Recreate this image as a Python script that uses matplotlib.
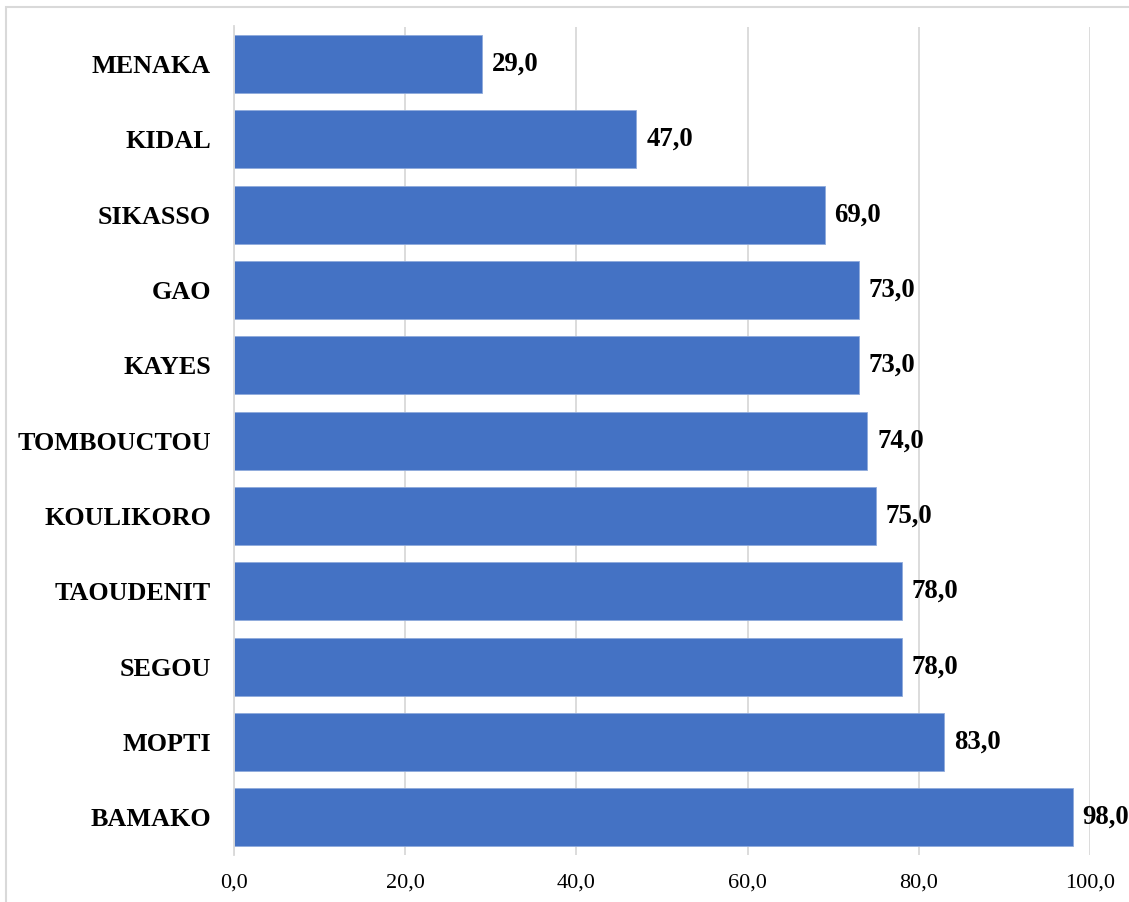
import matplotlib.pyplot as plt
from matplotlib.patches import Rectangle
import matplotlib.ticker as ticker

regions = ['MENAKA', 'KIDAL', 'SIKASSO', 'GAO', 'KAYES', 'TOMBOUCTOU',
           'KOULIKORO', 'TAOUDENIT', 'SEGOU', 'MOPTI', 'BAMAKO']
values = [29.0, 47.0, 69.0, 73.0, 73.0, 74.0, 75.0, 78.0, 78.0, 83.0, 98.0]
xticks = [0, 20, 40, 60, 80, 100]

plt.rcParams['font.family'] = ['Liberation Serif', 'DejaVu Serif']

fig = plt.figure(figsize=(11.29, 9.02), dpi=100)
ax = fig.add_axes([234/1129, 1 - 855/902, (1090 - 234)/1129, (855 - 26.5)/902])

ypos = list(range(len(regions)))
ax.barh(ypos, values, height=0.77, color='#4472C4', edgecolor='#8FAADC',
        linewidth=0.6, zorder=3)
for y, v in zip(ypos, values):
    ax.text(v + 1.15, y, f'{v:.1f}'.replace('.', ','), va='center', ha='left',
            fontsize=19.3, fontweight='bold', zorder=4)

ax.set_ylim(len(regions) - 0.5, -0.5)
ax.set_xlim(0, 100)
ax.set_yticks(ypos)
ax.set_yticklabels(regions, fontsize=18.8, fontweight='bold')
ax.set_xticks(xticks)
ax.xaxis.set_major_formatter(ticker.FuncFormatter(lambda x, p: f'{x:.1f}'.replace('.', ',')))
ax.tick_params(axis='x', length=0, labelsize=16, pad=13)
ax.tick_params(axis='y', length=0, pad=16.5)

ax.grid(axis='x', color='#d9d9d9', linewidth=1.3, zorder=0)
for s in ['top', 'right', 'bottom']:
    ax.spines[s].set_visible(False)
ax.spines['left'].set_color('#d9d9d9')
ax.spines['left'].set_linewidth(1.3)
ax.spines['left'].set_zorder(5)

fig.add_artist(Rectangle((6/1129, -0.02), 1.05, 1 - 7/902 + 0.02,
                         transform=fig.transFigure, fill=False,
                         edgecolor='#d9d9d9', linewidth=1.5))

fig.savefig('out.png', dpi=100)
